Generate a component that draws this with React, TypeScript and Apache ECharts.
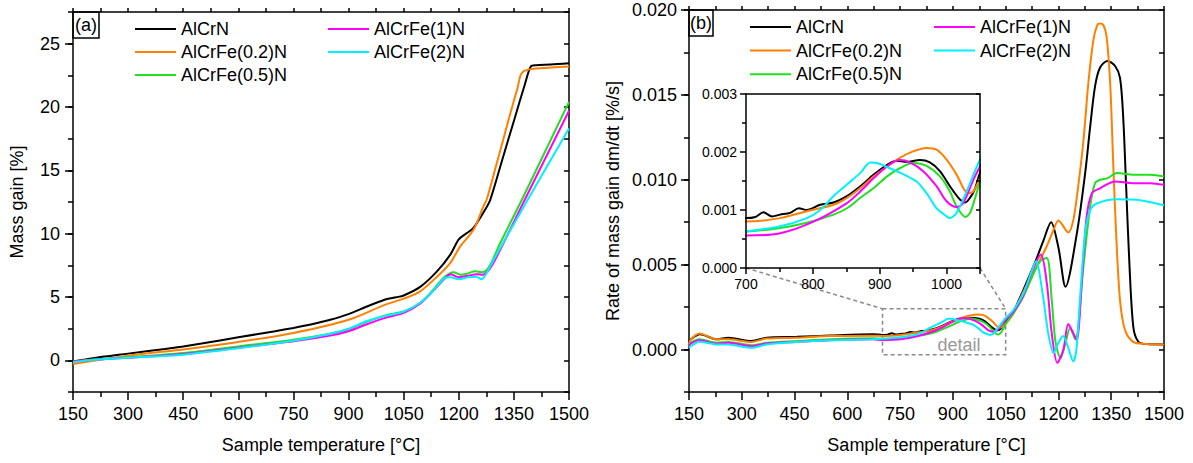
import { useEffect, useRef } from 'react';
import * as echarts from 'echarts';

const FONT = '"Liberation Sans", Arial, Helvetica, sans-serif';

const names = ['AlCrN', 'AlCrFe(0.2)N', 'AlCrFe(0.5)N', 'AlCrFe(1)N', 'AlCrFe(2)N'];
const colors = ['#000000', '#FF8000', '#20E020', '#FF00FF', '#00F0FF'];

// ---- (a) mass gain [%] vs temperature ----
const tgaT0 = [150, 200, 300, 400, 450, 500, 600, 700, 750, 800, 850, 900, 950, 1000, 1030, 1050, 1095, 1140, 1177, 1200, 1222, 1240, 1272, 1286, 1320, 1350, 1380, 1396, 1410, 1450, 1500];
const tgaV0 = [-0.1, 0.15, 0.53, 0.9, 1.1, 1.33, 1.82, 2.3, 2.56, 2.85, 3.2, 3.65, 4.25, 4.8, 4.98, 5.12, 5.8, 7.0, 8.35, 9.55, 10.05, 10.45, 11.9, 12.7, 16.0, 18.9, 21.8, 23.2, 23.3, 23.35, 23.45];
const tgaT1 = [150, 200, 300, 400, 450, 600, 750, 900, 1000, 1050, 1095, 1140, 1177, 1204, 1240, 1267, 1276, 1300, 1331, 1350, 1360, 1368, 1378, 1390, 1420, 1500];
const tgaV1 = [-0.3, -0.05, 0.37, 0.7, 0.85, 1.45, 2.16, 3.2, 4.4, 4.87, 5.45, 6.58, 7.7, 9.0, 10.3, 12.15, 12.7, 15.2, 18.5, 20.5, 21.5, 22.5, 22.85, 22.95, 23.05, 23.2];
const tgaT2 = [150, 200, 300, 450, 600, 750, 850, 900, 950, 1000, 1050, 1095, 1131, 1158, 1186, 1204, 1222, 1245, 1263, 1281, 1313, 1372, 1500];
const tgaV2 = [-0.1, 0.05, 0.24, 0.58, 1.1, 1.63, 2.1, 2.45, 3.05, 3.55, 3.85, 4.53, 5.58, 6.5, 6.95, 6.76, 6.84, 7.03, 6.95, 7.3, 9.26, 12.7, 20.4];
const tgaT3 = [150, 200, 300, 450, 600, 750, 850, 900, 950, 1000, 1050, 1095, 1131, 1160, 1178, 1200, 1220, 1250, 1265, 1281, 1300, 1380, 1500];
const tgaV3 = [-0.1, 0.03, 0.2, 0.5, 1.0, 1.5, 1.95, 2.3, 2.85, 3.35, 3.75, 4.5, 5.5, 6.4, 6.8, 6.55, 6.65, 6.8, 6.75, 7.1, 8.0, 12.7, 19.7];
const tgaT4 = [150, 200, 300, 450, 600, 750, 850, 900, 950, 1000, 1050, 1095, 1131, 1160, 1178, 1200, 1225, 1248, 1262, 1275, 1300, 1388, 1500];
const tgaV4 = [-0.15, 0.02, 0.2, 0.45, 0.95, 1.55, 2.1, 2.5, 3.1, 3.5, 3.85, 4.55, 5.5, 6.45, 6.55, 6.4, 6.55, 6.6, 6.4, 6.85, 8.2, 12.7, 18.3];

// ---- (b) rate of mass gain dm/dt [%/s] vs temperature ----
const dtgT0 = [150, 153, 181, 229, 262, 328, 371, 456, 551, 674, 700, 714, 726, 739, 751, 766, 779, 791, 811, 831, 851, 871, 891, 911, 925, 940, 960, 975, 990, 1005, 1020, 1028, 1035, 1042, 1050, 1071, 1100, 1133, 1157, 1179, 1200, 1220, 1252, 1276, 1290, 1304, 1318, 1339, 1361, 1375, 1384, 1392, 1402, 1413, 1427, 1450, 1500];
const dtgV0 = [0.0004, 0.00056, 0.0009, 0.0006, 0.0007, 0.0005, 0.0007, 0.00075, 0.00083, 0.0009, 0.00086, 0.00088, 0.00096, 0.00089, 0.00092, 0.00095, 0.00103, 0.001, 0.00109, 0.00113, 0.00124, 0.00141, 0.00161, 0.00178, 0.00185, 0.00183, 0.00186, 0.00182, 0.00167, 0.00141, 0.00118, 0.00113, 0.00121, 0.00135, 0.00164, 0.0022, 0.0035, 0.0051, 0.0064, 0.0075, 0.006, 0.0037, 0.0068, 0.0104, 0.0131, 0.0155, 0.0166, 0.017, 0.0167, 0.016, 0.0137, 0.0098, 0.0049, 0.0013, 0.00046, 0.00032, 0.0003];
const dtgT1 = [150, 155, 180, 228, 262, 328, 371, 456, 551, 674, 700, 751, 791, 831, 851, 871, 891, 911, 930, 950, 970, 985, 1000, 1015, 1025, 1032, 1040, 1050, 1071, 1100, 1138, 1167, 1185, 1200, 1228, 1242, 1256, 1271, 1285, 1299, 1310, 1318, 1328, 1337, 1347, 1356, 1364, 1375, 1389, 1408, 1430, 1500];
const dtgV1 = [0.0003, 0.0006, 0.00095, 0.0006, 0.0006, 0.00045, 0.00065, 0.0007, 0.0008, 0.00082, 0.0008, 0.00086, 0.00098, 0.00109, 0.00121, 0.00138, 0.00158, 0.00175, 0.0019, 0.00201, 0.00207, 0.00204, 0.00187, 0.00161, 0.00138, 0.00129, 0.00132, 0.00155, 0.0021, 0.0034, 0.0049, 0.0061, 0.007, 0.0076, 0.0069, 0.0076, 0.0096, 0.0123, 0.0157, 0.0182, 0.0191, 0.0192, 0.0191, 0.0184, 0.0157, 0.0108, 0.0068, 0.0029, 0.00115, 0.00052, 0.00035, 0.0003];
const dtgT2 = [150, 155, 180, 228, 262, 328, 371, 456, 551, 674, 700, 751, 791, 831, 851, 871, 891, 911, 930, 950, 970, 990, 1005, 1015, 1028, 1035, 1042, 1050, 1071, 1100, 1130, 1148, 1167, 1181, 1192, 1206, 1220, 1233, 1248, 1271, 1290, 1304, 1318, 1340, 1366, 1413, 1461, 1500];
const dtgV2 = [0.0002, 0.0004, 0.0006, 0.0004, 0.00045, 0.00026, 0.0004, 0.0005, 0.0006, 0.00066, 0.00063, 0.00069, 0.00078, 0.00092, 0.00103, 0.00121, 0.00138, 0.00158, 0.00172, 0.00181, 0.00176, 0.00158, 0.00132, 0.00106, 0.00088, 0.00095, 0.00118, 0.00149, 0.0021, 0.0031, 0.0045, 0.0052, 0.0054, 0.0029, 0.0004, -0.0005, 0.0004, 0.00125, 0.0006, 0.0049, 0.0084, 0.0098, 0.01, 0.0101, 0.0104, 0.0103, 0.0103, 0.0102];
const dtgT3 = [150, 155, 180, 228, 262, 328, 371, 456, 551, 674, 700, 751, 801, 851, 871, 891, 911, 930, 945, 965, 985, 1000, 1015, 1025, 1040, 1050, 1071, 1100, 1125, 1150, 1167, 1181, 1197, 1214, 1228, 1242, 1252, 1266, 1280, 1295, 1318, 1361, 1413, 1461, 1500];
const dtgV3 = [0.0002, 0.00035, 0.00055, 0.00035, 0.0004, 0.0002, 0.00035, 0.00045, 0.00055, 0.0006, 0.00056, 0.0006, 0.0008, 0.00112, 0.00132, 0.00155, 0.00175, 0.00186, 0.00182, 0.00167, 0.00141, 0.00115, 0.00105, 0.00112, 0.00152, 0.00175, 0.0022, 0.0032, 0.0046, 0.0056, 0.0039, 0.00095, -0.00078, 0.0, 0.0015, 0.00097, 0.00056, 0.0039, 0.0078, 0.0092, 0.0095, 0.0099, 0.0098, 0.0098, 0.0097];
const dtgT4 = [150, 155, 180, 228, 262, 328, 371, 456, 551, 674, 700, 751, 791, 811, 831, 851, 871, 886, 896, 911, 931, 955, 970, 985, 1000, 1005, 1015, 1030, 1050, 1071, 1100, 1120, 1136, 1155, 1171, 1186, 1200, 1213, 1228, 1242, 1251, 1261, 1276, 1290, 1309, 1366, 1432, 1500];
const dtgV4 = [0.0001, 0.0002, 0.00046, 0.0003, 0.0003, 0.0001, 0.0003, 0.00045, 0.00055, 0.0006, 0.00063, 0.00072, 0.00086, 0.001, 0.00124, 0.00144, 0.00164, 0.00182, 0.00181, 0.00174, 0.00164, 0.00149, 0.00129, 0.00103, 0.00089, 0.00086, 0.00095, 0.00132, 0.00187, 0.0023, 0.0033, 0.0044, 0.0052, 0.0033, 0.00095, -0.0002, 0.0004, 0.0008, 0.0001, -0.0007, 0.0, 0.0029, 0.0069, 0.0082, 0.0086, 0.00885, 0.0088, 0.0085];

// tick labels / ranges
const xTicks = [150, 1500, 150];
const aYMajor = [0, 5, 10, 15, 20, 25];
const bYMajor = [0, 0.005, 0.01, 0.015, 0.02];
const insetX = [700, 1050];
const insetY = [0, 0.003];
const detailBox = [700, 1050, -0.0003, 0.0024];

const tgaT = [tgaT0, tgaT1, tgaT2, tgaT3, tgaT4];
const tgaV = [tgaV0, tgaV1, tgaV2, tgaV3, tgaV4];
const dtgT = [dtgT0, dtgT1, dtgT2, dtgT3, dtgT4];
const dtgV = [dtgV0, dtgV1, dtgV2, dtgV3, dtgV4];

const isMult = (v: number, m: number) => Math.abs(v / m - Math.round(v / m)) < 1e-6;
const lineS = { color: '#000', width: 1.5 };
const txt = { color: '#000', fontFamily: FONT };

function pairs(t: number[], v: number[]) {
  return t.map((x, i) => [x, v[i]]);
}

function series(xi: number, yi: number, T: number[][], V: number[][], z = 2) {
  return names.map((n, i) => ({
    type: 'line',
    name: n,
    xAxisIndex: xi,
    yAxisIndex: yi,
    data: pairs(T[i], V[i]),
    symbol: 'none',
    showSymbol: false,
    smooth: 0.3,
    z,
    lineStyle: { color: colors[i], width: 2 },
    itemStyle: { color: colors[i] },
  }));
}

function legend(data: string[], left: number, top: number, gap: number) {
  return {
    data,
    left,
    top,
    orient: 'vertical',
    itemGap: gap,
    itemWidth: 41,
    itemHeight: 2,
    icon: 'rect',
    padding: 0,
    textStyle: { ...txt, fontSize: 18, lineHeight: 18 },
  };
}

const xBottom = (g: number, name: string) => ({
  type: 'value', gridIndex: g, position: 'bottom',
  min: xTicks[0], max: xTicks[1], interval: xTicks[2],
  axisLine: { show: true, onZero: false, lineStyle: lineS },
  axisTick: { show: true, length: 8, lineStyle: lineS },
  minorTick: { show: true, splitNumber: 2, length: 5, lineStyle: lineS },
  splitLine: { show: false }, minorSplitLine: { show: false },
  axisLabel: { ...txt, fontSize: 18, margin: 13, showMinLabel: true, showMaxLabel: true, formatter: (v: number) => String(v) },
  name, nameLocation: 'middle', nameGap: 44,
  nameTextStyle: { ...txt, fontSize: 18 },
});
const xTop = (g: number) => ({
  type: 'value', gridIndex: g, position: 'top',
  min: xTicks[0], max: xTicks[1], interval: xTicks[2] / 2,
  axisLine: { show: true, onZero: false, lineStyle: lineS },
  axisTick: { show: true, length: 4, lineStyle: lineS },
  axisLabel: { show: false }, splitLine: { show: false },
});
const xHidden = (g: number) => ({ type: 'value', gridIndex: g, show: false, min: xTicks[0], max: xTicks[1] });

export default function App() {
  const ref = useRef<HTMLDivElement>(null);
  useEffect(() => {
    const chart = echarts.init(ref.current!, null, { renderer: 'svg' });
    const option: any = {
      animation: false,
      backgroundColor: '#fff',
      textStyle: { fontFamily: FONT },
      title: [
        { text: '(a)', left: 73, top: 12, padding: [4, 2, 4, 2], borderColor: '#000', borderWidth: 1.5, textStyle: { ...txt, fontSize: 18, fontWeight: 'normal', lineHeight: 18 } },
        { text: '(b)', left: 689, top: 10, padding: [4, 1, 4, 1], borderColor: '#000', borderWidth: 1.5, textStyle: { ...txt, fontSize: 18, fontWeight: 'normal', lineHeight: 18 } },
      ],
      legend: [
        legend(names.slice(0, 3), 135, 20, 5),
        legend(names.slice(3), 328, 20, 5),
        legend(names.slice(0, 3), 750, 18, 5.6),
        legend(names.slice(3), 934, 18, 5.6),
      ],
      grid: [
        { left: 73, top: 12, width: 496, height: 380 },
        { left: 73, top: 12, width: 496, height: 380 },
        { left: 689, top: 10, width: 475, height: 382 },
        { left: 689, top: 10, width: 475, height: 382 },
        { left: 746, top: 94, width: 234, height: 174, show: true, backgroundColor: '#fff', borderWidth: 0, z: 3 },
      ],
      xAxis: [
        xBottom(0, 'Sample temperature [°C]'),
        xTop(0),
        xHidden(1),
        xBottom(2, 'Sample temperature [°C]'),
        xTop(2),
        xHidden(3),
        {
          type: 'value', gridIndex: 4, position: 'bottom', min: insetX[0], max: insetX[1], interval: 100, z: 5,
          axisLine: { show: true, onZero: false, lineStyle: lineS },
          axisTick: { show: true, length: 6, lineStyle: lineS },
          minorTick: { show: true, splitNumber: 2, length: 4, lineStyle: lineS },
          splitLine: { show: false }, minorSplitLine: { show: false },
          axisLabel: { ...txt, fontSize: 14, margin: 9, formatter: (v: number) => (isMult(v, 100) ? String(v) : '') },
        },
        {
          type: 'value', gridIndex: 4, position: 'top', min: insetX[0], max: insetX[1], z: 5,
          axisLine: { show: true, onZero: false, lineStyle: lineS },
          axisTick: { show: false }, axisLabel: { show: false }, splitLine: { show: false },
        },
      ],
      yAxis: [
        {
          type: 'value', gridIndex: 0, position: 'left', min: -2.5, max: 27.5, interval: 2.5,
          axisLine: { show: true, onZero: false, lineStyle: lineS },
          axisTick: { show: true, length: 5, lineStyle: lineS },
          splitLine: { show: false },
          axisLabel: { ...txt, fontSize: 18, margin: 13, formatter: (v: number) => (isMult(v, 5) ? String(Math.round(v)) : '') },
          name: 'Mass gain [%]', nameLocation: 'middle', nameGap: 47,
          nameTextStyle: { ...txt, fontSize: 18 },
        },
        {
          type: 'value', gridIndex: 0, position: 'right', min: -2.5, max: 27.5, interval: 2.5,
          axisLine: { show: true, onZero: false, lineStyle: lineS },
          axisTick: { show: true, inside: true, length: 5, lineStyle: lineS },
          axisLabel: { show: false }, splitLine: { show: false },
        },
        {
          type: 'value', gridIndex: 1, position: 'left', min: -2.5, max: 27.5, splitNumber: 6,
          axisLine: { show: false },
          axisTick: { show: true, length: 8, lineStyle: lineS, customValues: aYMajor },
          axisLabel: { show: false }, splitLine: { show: false },
        },
        {
          type: 'value', gridIndex: 2, position: 'left', min: -0.0025, max: 0.02, interval: 0.0025,
          axisLine: { show: true, onZero: false, lineStyle: lineS },
          axisTick: { show: true, length: 5, lineStyle: lineS },
          splitLine: { show: false },
          axisLabel: { ...txt, fontSize: 18, margin: 12, formatter: (v: number) => (isMult(v, 0.005) ? (Math.round(v / 0.005) * 0.005).toFixed(3) : '') },
          name: 'Rate of mass gain dm/dt [%/s]', nameLocation: 'middle', nameGap: 67,
          nameTextStyle: { ...txt, fontSize: 18 },
        },
        {
          type: 'value', gridIndex: 2, position: 'right', min: -0.0025, max: 0.02, interval: 0.0025,
          axisLine: { show: true, onZero: false, lineStyle: lineS },
          axisTick: { show: true, inside: true, length: 5, lineStyle: lineS },
          axisLabel: { show: false }, splitLine: { show: false },
        },
        {
          type: 'value', gridIndex: 3, position: 'left', min: -0.0025, max: 0.02, splitNumber: 4,
          axisLine: { show: false },
          axisTick: { show: true, length: 8, lineStyle: lineS, customValues: bYMajor },
          axisLabel: { show: false }, splitLine: { show: false },
        },
        {
          type: 'value', gridIndex: 4, position: 'left', min: insetY[0], max: insetY[1], interval: 0.001, z: 5,
          axisLine: { show: true, onZero: false, lineStyle: lineS },
          axisTick: { show: true, length: 6, lineStyle: lineS },
          minorTick: { show: true, splitNumber: 2, length: 4, lineStyle: lineS },
          splitLine: { show: false }, minorSplitLine: { show: false },
          axisLabel: { ...txt, fontSize: 14, margin: 9, formatter: (v: number) => v.toFixed(3) },
        },
        {
          type: 'value', gridIndex: 4, position: 'right', min: insetY[0], max: insetY[1], interval: 0.0005, z: 5,
          axisLine: { show: true, onZero: false, lineStyle: lineS },
          axisTick: { show: true, inside: true, length: 4, lineStyle: lineS },
          axisLabel: { show: false }, splitLine: { show: false },
        },
      ],
      series: [
        ...series(0, 0, tgaT, tgaV),
        ...series(3, 3, dtgT, dtgV),
        ...series(6, 6, dtgT, dtgV, 4),
      ],
    };
    chart.setOption(option);

    const px = (xi: number, yi: number, p: number[]) => chart.convertToPixel({ xAxisIndex: xi, yAxisIndex: yi } as any, p) as number[];
    const [bx0, bx1, by0, by1] = detailBox;
    const r0 = px(3, 3, [bx0, by1]);
    const r1 = px(3, 3, [bx1, by0]);
    const c0 = px(6, 6, [insetX[0], insetY[0]]);
    const c1 = px(6, 6, [insetX[1], insetY[0]]);
    const dash = { stroke: '#8a8a8a', lineWidth: 1.5, lineDash: [4, 3], fill: null };
    chart.setOption({
      graphic: [
        { type: 'rect', z: 1, shape: { x: r0[0], y: r0[1], width: r1[0] - r0[0], height: r1[1] - r0[1] }, style: { ...dash, fill: 'none' } },
        { type: 'line', z: 1, shape: { x1: c0[0], y1: c0[1], x2: r0[0], y2: r0[1] }, style: dash },
        { type: 'line', z: 1, shape: { x1: c1[0], y1: c1[1], x2: r1[0], y2: r0[1] }, style: dash },
        { type: 'text', z: 1, x: (r0[0] + r1[0]) / 2 + 15, y: r1[1] - 1, style: { text: 'detail', fill: '#9a9a9a', fontSize: 18, fontFamily: FONT, align: 'center', verticalAlign: 'bottom' } },
      ],
    });
    return () => chart.dispose();
  }, []);
  return <div ref={ref} style={{ position: 'absolute', left: 0, top: 0, width: 1193, height: 463 }} />;
}
